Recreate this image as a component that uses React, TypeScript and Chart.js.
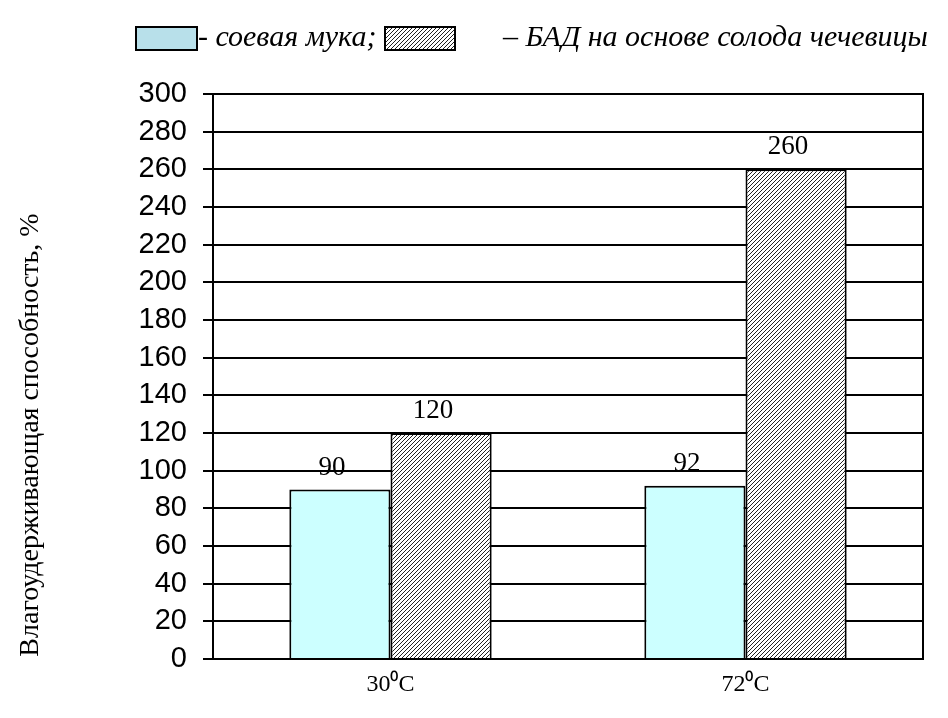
import React, { useEffect, useRef } from "react";
import { Chart, registerables } from "chart.js";

Chart.register(...registerables);

const categories = ["30⁰C", "72⁰C"];
const soyFlour = [90, 92];
const badLentil = [120, 260];
const yMin = 0;
const yMax = 300;
const yStep = 20;
const legendLabels = ["- соевая мука;", "– БАД на основе солода чечевицы"];
const yTitle = "Влагоудерживающая способность, %";

const SERIF = '"Liberation Serif", "Times New Roman", serif';

function makeHatch(): CanvasPattern | string {
  const c = document.createElement("canvas");
  c.width = 4;
  c.height = 4;
  const g = c.getContext("2d");
  if (!g) return "#999";
  g.fillStyle = "#ffffff";
  g.fillRect(0, 0, 4, 4);
  g.strokeStyle = "#222222";
  g.lineWidth = 1;
  g.beginPath();
  g.moveTo(-1, 5);
  g.lineTo(5, -1);
  g.moveTo(-1, 1);
  g.lineTo(1, -1);
  g.moveTo(3, 5);
  g.lineTo(5, 3);
  g.stroke();
  const p = g.createPattern(c, "repeat");
  return p || "#999";
}

export default function App() {
  const ref = useRef<HTMLCanvasElement | null>(null);

  useEffect(() => {
    const canvas = ref.current;
    if (!canvas) return;
    const hatch = makeHatch();

    const decor = {
      id: "decor",
      afterDraw(chart: any) {
        const ctx = chart.ctx;
        const a = chart.chartArea;
        ctx.save();
        // frame
        ctx.strokeStyle = "#000";
        ctx.lineWidth = 2;
        ctx.strokeRect(a.left, a.top, a.right - a.left, a.bottom - a.top);

        // value labels
        ctx.fillStyle = "#000";
        ctx.font = "27px " + SERIF;
        ctx.textAlign = "center";
        ctx.textBaseline = "alphabetic";
        chart.data.datasets.forEach((ds: any, di: number) => {
          const meta = chart.getDatasetMeta(di);
          meta.data.forEach((el: any, i: number) => {
            ctx.fillText(String(ds.data[i]), el.x - 8, el.y - 15);
          });
        });

        // y title
        ctx.save();
        ctx.translate(31, 435);
        ctx.rotate(-Math.PI / 2);
        ctx.font = "28px " + SERIF;
        ctx.textAlign = "center";
        ctx.textBaseline = "middle";
        ctx.fillText(yTitle, 0, 0);
        ctx.restore();

        // legend
        ctx.lineWidth = 2;
        ctx.fillStyle = "#b8e0ea";
        ctx.fillRect(136, 27, 61, 23);
        ctx.strokeRect(136, 27, 61, 23);
        ctx.fillStyle = hatch as any;
        ctx.fillRect(385, 27, 70, 23);
        ctx.strokeRect(385, 27, 70, 23);
        ctx.fillStyle = "#000";
        ctx.font = "italic 30px " + SERIF;
        ctx.textAlign = "left";
        ctx.textBaseline = "alphabetic";
        ctx.fillText(legendLabels[0], 198, 46);
        ctx.fillText(legendLabels[1], 503, 46);
        ctx.restore();
      },
    };

    const chart = new Chart(canvas, {
      type: "bar",
      data: {
        labels: categories,
        datasets: [
          {
            label: legendLabels[0],
            data: soyFlour,
            backgroundColor: "#ccffff",
            borderColor: "#000",
            borderWidth: 2,
          },
          {
            label: legendLabels[1],
            data: badLentil,
            backgroundColor: hatch as any,
            borderColor: "#000",
            borderWidth: 2,
          },
        ],
      },
      options: {
        responsive: false,
        animation: false,
        layout: { padding: { top: 94, right: 25, left: 0, bottom: 0 } },
        plugins: {
          legend: { display: false },
          tooltip: { enabled: false },
        },
        datasets: {
          bar: { categoryPercentage: 0.57, barPercentage: 1 },
        },
        scales: {
          x: {
            grid: { display: false, drawTicks: false },
            border: { display: true, color: "#000", width: 2 },
            ticks: {
              color: "#000",
              font: { family: SERIF, size: 24 },
              padding: 11,
            },
            afterFit(scale: any) {
              scale.height = 59;
            },
          },
          y: {
            min: yMin,
            max: yMax,
            grid: { color: "#000", lineWidth: 2, tickLength: 10, tickColor: "#000" },
            border: { display: true, color: "#000", width: 2 },
            ticks: {
              stepSize: yStep,
              autoSkip: false,
              color: "#000",
              font: { family: '"Liberation Sans", Arial, sans-serif', size: 29 },
              padding: 16,
            },
            afterFit(scale: any) {
              scale.width = 213;
            },
          },
        },
      },
      plugins: [decor],
    });

    return () => chart.destroy();
  }, []);

  return (
    <div style={{ position: "fixed", left: 0, top: 0, width: 948, height: 718, background: "#fff" }}>
      <canvas ref={ref} width={948} height={718} style={{ display: "block" }} />
    </div>
  );
}
